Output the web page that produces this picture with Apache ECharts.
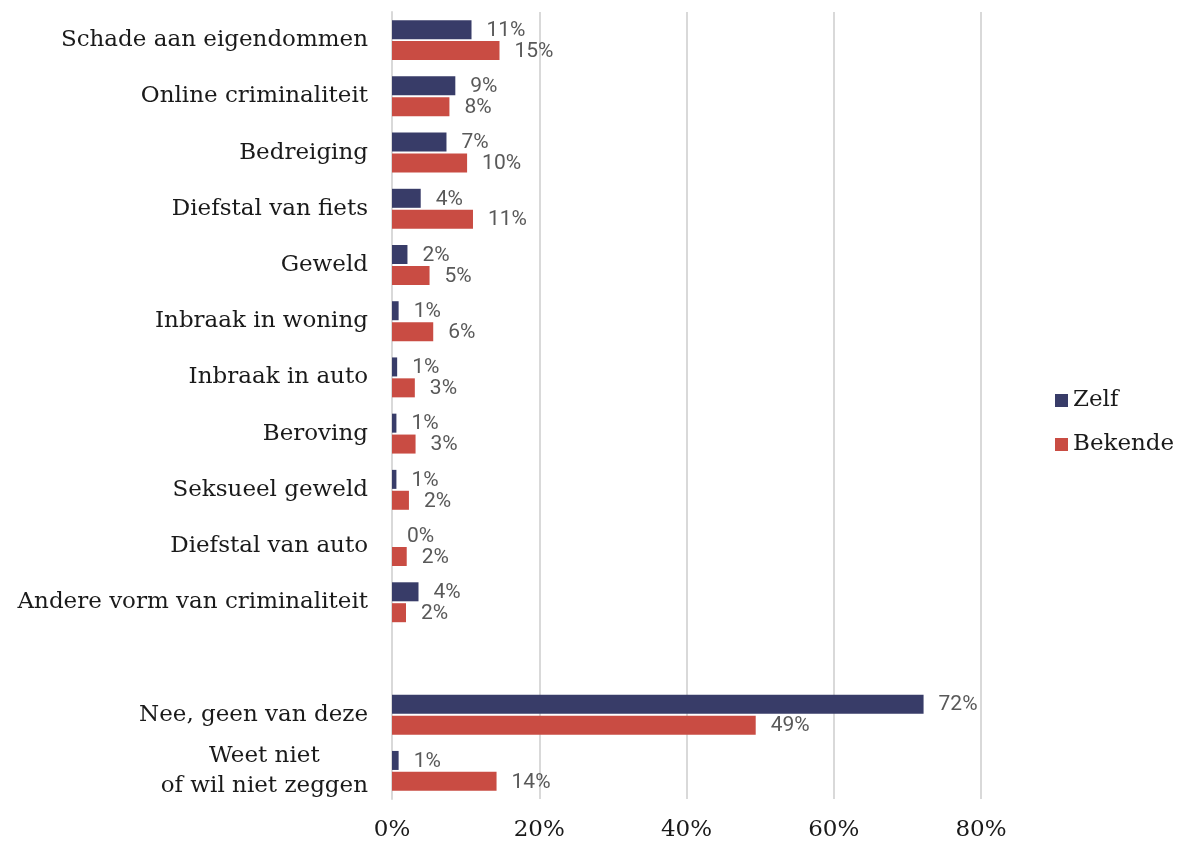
<!DOCTYPE html>
<html>
<head>
<meta charset="utf-8">
<script src="https://cdn.jsdelivr.net/npm/echarts@6/dist/echarts.min.js"></script>
<style>
  html, body { margin: 0; padding: 0; background: #fff; }
  #chart { width: 1178px; height: 843px; }
</style>
</head>
<body>
<div id="chart"></div>
<script>
var categories = [
  'Schade aan eigendommen',
  'Online criminaliteit',
  'Bedreiging',
  'Diefstal van fiets',
  'Geweld',
  'Inbraak in woning',
  'Inbraak in auto',
  'Beroving',
  'Seksueel geweld',
  'Diefstal van auto',
  'Andere vorm van criminaliteit',
  '',
  'Nee, geen van deze',
  'Weet niet\nof wil niet zeggen'
];
var zelf = [10.8, 8.6, 7.4, 3.9, 2.1, 0.9, 0.7, 0.6, 0.6, 0.0, 3.6, null, 72.2, 0.9];
var bekende = [14.6, 7.8, 10.2, 11.0, 5.1, 5.6, 3.1, 3.2, 2.3, 2.0, 1.9, null, 49.4, 14.2];
var xTicks = [0, 20, 40, 60, 80];

var serif = '"DejaVu Serif", "Liberation Serif", serif';

var chart = echarts.init(document.getElementById('chart'));

function valueLabel(p) {
  if (p.value == null) return '';
  return Math.round(p.value) + '%';
}

var option = {
  animation: false,
  backgroundColor: '#fff',
  legend: {
    orient: 'vertical',
    left: 1050,
    top: 384,
    icon: 'rect',
    itemWidth: 13,
    itemHeight: 13,
    itemGap: 21,
    textStyle: { fontFamily: serif, fontSize: 23, color: '#1a1a1a' },
    data: ['Zelf', 'Bekende']
  },
  grid: { left: 392, right: 197, top: 12, bottom: 44 },
  xAxis: {
    type: 'value',
    min: xTicks[0],
    max: xTicks[xTicks.length - 1],
    interval: 20,
    axisLine: { show: false },
    axisTick: { show: false },
    splitLine: { lineStyle: { color: '#d9d9d9', width: 2 } },
    axisLabel: {
      formatter: '{value}%',
      fontFamily: serif,
      fontSize: 23,
      color: '#1a1a1a',
      margin: 20
    }
  },
  yAxis: {
    type: 'category',
    inverse: true,
    data: categories,
    axisLine: { show: true, lineStyle: { color: '#d9d9d9', width: 2 } },
    axisTick: { show: false },
    axisLabel: {
      fontFamily: serif,
      fontSize: 23,
      color: '#1a1a1a',
      margin: 24,
      interval: 0,
      lineHeight: 30,
      formatter: function (v) {
        if (v.indexOf('\n') < 0) return v;
        return v.split('\n').map(function (s) { return '{c|' + s + '}'; }).join('\n');
      },
      rich: {
        c: { fontFamily: serif, fontSize: 23, color: '#1a1a1a', align: 'center', lineHeight: 30 }
      }
    }
  },
  series: [
    {
      name: 'Zelf',
      type: 'bar',
      data: zelf,
      barGap: '10%',
      barCategoryGap: '29%',
      itemStyle: { color: '#383c68' },
      label: {
        show: true,
        position: 'right',
        distance: 15,
        offset: [0, 1],
        formatter: valueLabel,
        fontFamily: 'Roboto',
        fontSize: 21,
        color: '#595959'
      }
    },
    {
      name: 'Bekende',
      type: 'bar',
      data: bekende,
      barGap: '10%',
      barCategoryGap: '29%',
      itemStyle: { color: '#c94c43' },
      label: {
        show: true,
        position: 'right',
        distance: 15,
        offset: [0, 1],
        formatter: valueLabel,
        fontFamily: 'Roboto',
        fontSize: 21,
        color: '#595959'
      }
    }
  ]
};

chart.setOption(option);
</script>
</body>
</html>
